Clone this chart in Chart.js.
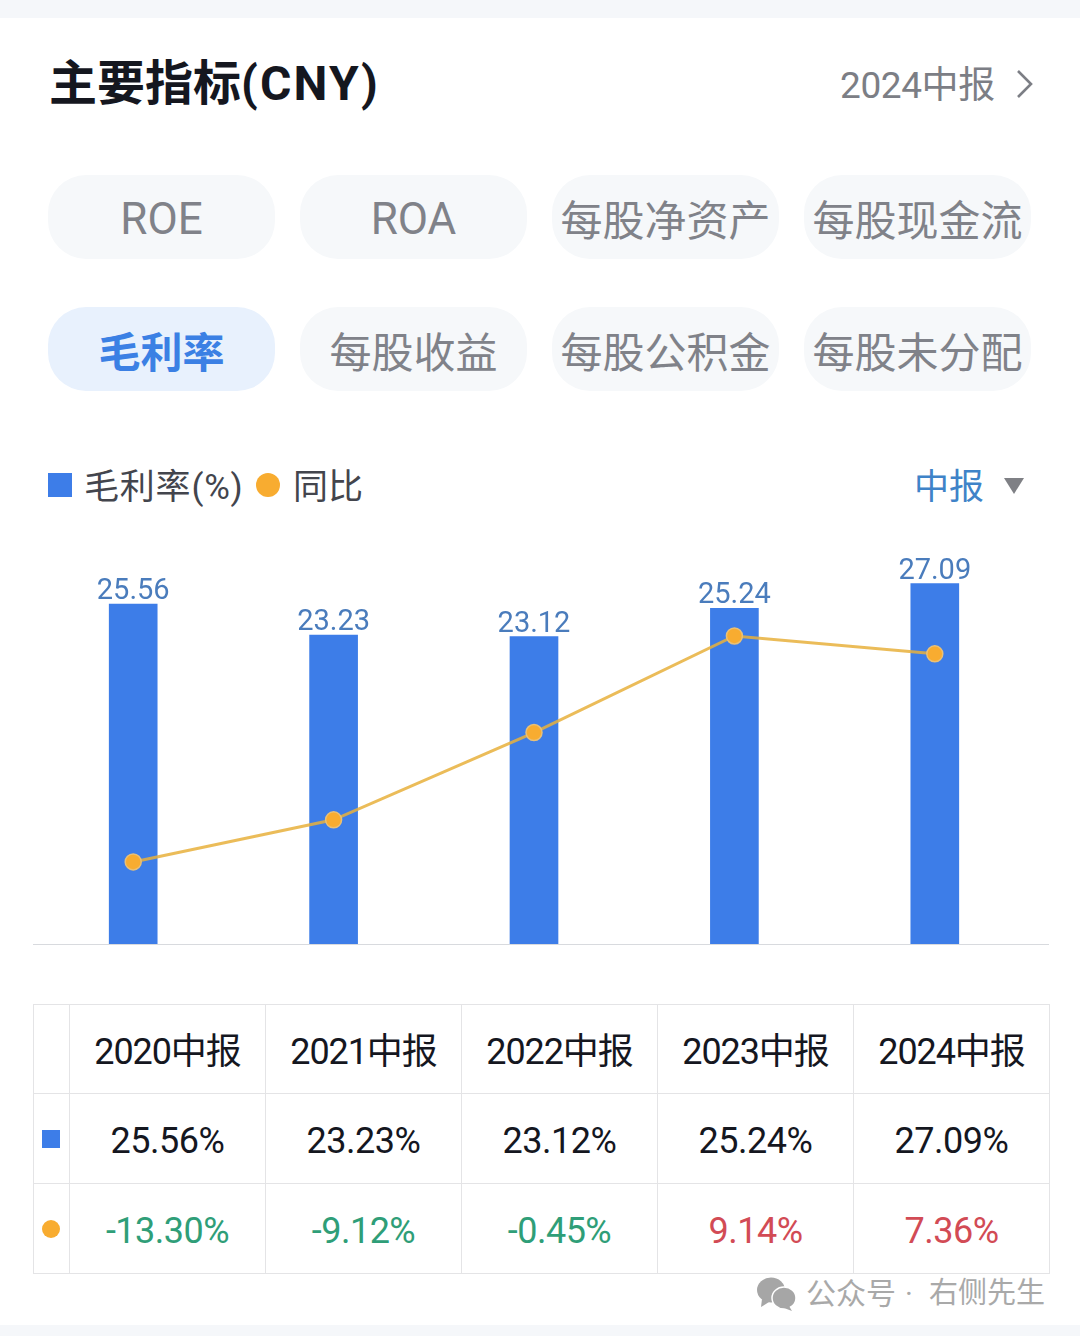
<!DOCTYPE html>
<html lang="zh"><head><meta charset="utf-8">
<script src="https://cdn.jsdelivr.net/npm/chart.js@4"></script>
<style>
html,body{margin:0;padding:0;background:#fff}
body{width:1080px;height:1336px;position:relative;overflow:hidden;font-family:Roboto,"Noto Sans CJK SC",sans-serif}
.a{position:absolute;white-space:nowrap;line-height:1}
.band{position:absolute;left:0;width:1080px;background:#f5f7fa}
.pill{position:absolute;width:227px;height:84px;border-radius:38px;background:#f6f8fa;color:#808289;font-size:42px;display:flex;align-items:center;justify-content:center;white-space:nowrap}
.pill.lat{font-size:44px;padding-top:4px;height:80px}
.pill.on{background:#e8f1fd;color:#3b80e4;font-weight:700;font-size:42px}
#wrap{position:absolute;left:33px;top:530px;width:1016px;height:420px}
table{position:absolute;left:33px;top:1004px;border-collapse:collapse;table-layout:fixed;width:1017px}
td{border:1px solid #e4e4e6;padding:0;text-align:center;font-size:36px;color:#15171f;height:90px;letter-spacing:-1.1px;box-sizing:border-box}
tr:first-child td{height:89px;padding-bottom:3px}
tr.v td{padding-top:4px;letter-spacing:-.5px}
td:first-child{width:36px}
tr.v td:first-child{padding-top:0}
td span.sq{display:inline-block;width:18px;height:18px;background:#3d7de8;vertical-align:middle;position:relative;left:-1px;top:-2px}
td span.ci{display:inline-block;width:18px;height:18px;border-radius:50%;background:#f8ac30;vertical-align:middle;position:relative;left:-1px;top:-2px}
</style></head><body>
<div class="band" style="top:0;height:18px"></div>
<div class="band" style="top:1325px;height:11px"></div>
<div class="a" style="left:49px;top:60px;font-size:48px;font-weight:700;color:#15171f">主要指标<span style="letter-spacing:2.2px">(CNY)</span></div>
<div class="a" style="left:840px;top:67px;font-size:37px;color:#7c7e85;letter-spacing:-.4px">2024中报</div>
<svg class="a" style="left:1014px;top:68px" width="20" height="32"><path d="M4 3 L17 16 L4 29" fill="none" stroke="#7c7e85" stroke-width="2.6"/></svg>
<div id="pills"></div>
<div class="a" style="left:48px;top:473px;width:24px;height:24px;background:#3d7de8"></div>
<div class="a" style="left:84px;top:470px;font-size:35px;color:#43454d;letter-spacing:.8px">毛利率(%)</div>
<div class="a" style="left:256px;top:473px;width:24px;height:24px;border-radius:50%;background:#f8ac30"></div>
<div class="a" style="left:293px;top:470px;font-size:35px;color:#43454d">同比</div>
<div class="a" style="left:914px;top:470px;font-size:35px;color:#3f83c8">中报</div>
<svg class="a" style="left:1004px;top:478px" width="20" height="16"><path d="M0 0 H20 L10 16 Z" fill="#7f8085"/></svg>
<div id="wrap"><canvas id="c" width="1016" height="420"></canvas></div>
<table id="t"></table>
<svg class="a" style="left:756px;top:1276px" width="44" height="36"><ellipse cx="15" cy="14" rx="14" ry="12.5" fill="#a6a6a6"/><ellipse cx="28" cy="22" rx="12" ry="11" fill="#a6a6a6" stroke="#fff" stroke-width="1.5"/><path d="M6 23 L5 31 L13 26 Z" fill="#a6a6a6"/><path d="M33 30 L36 35 L28 32 Z" fill="#a6a6a6"/></svg>
<div class="a" style="left:806px;top:1279px;font-size:30px;color:#a9a9a9">公众号</div>
<div class="a" style="left:905px;top:1279px;font-size:30px;color:#a9a9a9">·</div>
<div class="a" style="left:929px;top:1279px;font-size:29px;color:#a9a9a9">右侧先生</div>
<script>
const categories=['2020中报','2021中报','2022中报','2023中报','2024中报'];
const grossMargin=[25.56,23.23,23.12,25.24,27.09];
const yoy=[-13.30,-9.12,-0.45,9.14,7.36];
const pillLabels=['ROE','ROA','每股净资产','每股现金流','毛利率','每股收益','每股公积金','每股未分配'];

const pillX=[48,300,552,804], pillY=[175,307];
document.getElementById('pills').innerHTML=pillLabels.map((p,i)=>
 `<div class="pill${p==='毛利率'?' on':''}${/^[A-Z]+$/.test(p)?' lat':''}" style="left:${pillX[i%4]}px;top:${pillY[i>>2]}px">${p}</div>`).join('');

const fmt=v=>v.toFixed(2)+'%';
document.getElementById('t').innerHTML=
 '<tr><td></td>'+categories.map(c=>`<td>${c}</td>`).join('')+'</tr>'+
 '<tr class="v"><td><span class="sq"></span></td>'+grossMargin.map(v=>`<td>${fmt(v)}</td>`).join('')+'</tr>'+
 '<tr class="v"><td><span class="ci"></span></td>'+yoy.map(v=>`<td style="color:${v<0?'#2f9e78':'#d24b55'}">${fmt(v)}</td>`).join('')+'</tr>';

const extras={id:'extras',
 beforeDatasetsDraw(ch){const c=ch.ctx,y=ch.scales.y.bottom;c.save();c.strokeStyle='#d8dade';c.lineWidth=1;
  c.beginPath();c.moveTo(0,y+.5);c.lineTo(ch.width,y+.5);c.stroke();c.restore();},
 afterDatasetsDraw(ch){const c=ch.ctx,m=ch.getDatasetMeta(1);c.save();c.font='29px Roboto';c.fillStyle='#4a7cbc';
  c.textAlign='center';c.textBaseline='alphabetic';
  m.data.forEach((b,i)=>c.fillText(grossMargin[i].toFixed(2),b.x,b.y-5));c.restore();}};

new Chart(document.getElementById('c'),{
 data:{labels:categories,datasets:[
  {type:'line',label:'同比',data:yoy,yAxisID:'y2',order:0,borderColor:'rgba(232,176,60,.85)',borderWidth:3,tension:0,
   pointRadius:8,pointBackgroundColor:'#f8ac30',pointBorderColor:'#e8c078',pointBorderWidth:1.5},
  {type:'bar',label:'毛利率(%)',data:grossMargin,yAxisID:'y',order:1,backgroundColor:'#3d7de8',barThickness:48}
 ]},
 options:{responsive:false,animation:false,
  layout:{autoPadding:false,padding:{top:15,bottom:6,left:0,right:14}},
  plugins:{legend:{display:false},tooltip:{enabled:false}},
  scales:{x:{display:false},
   y:{display:false,min:0,max:30},
   y2:{display:false,min:-21.45,max:18.17}}},
 plugins:[extras]});
</script>
</body></html>
